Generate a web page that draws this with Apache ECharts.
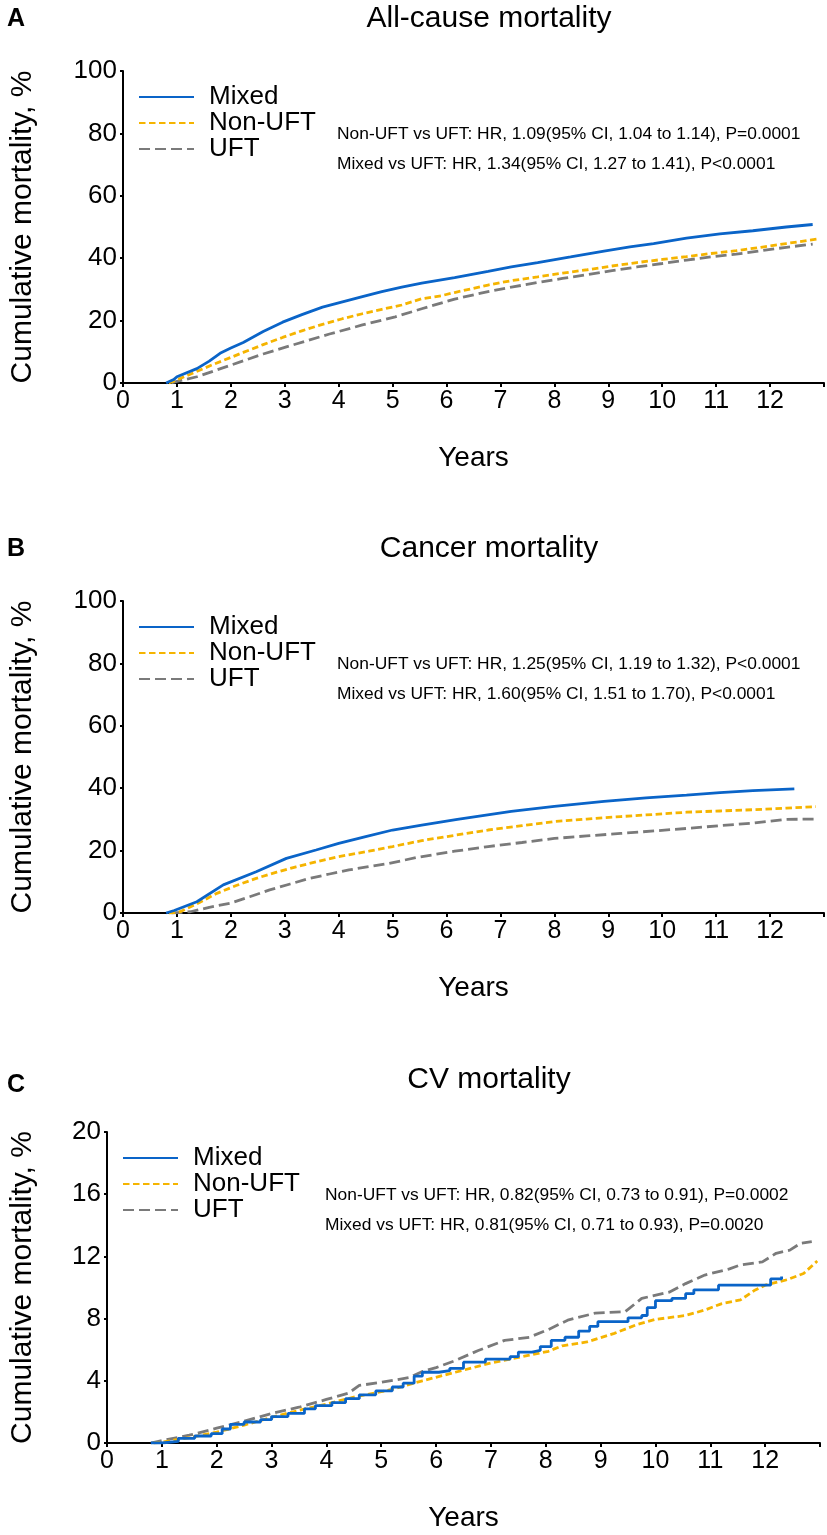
<!DOCTYPE html>
<html><head><meta charset="utf-8">
<script src="https://cdn.jsdelivr.net/npm/echarts@6/dist/echarts.min.js"></script>
<style>html,body{margin:0;padding:0;background:#fff}#c{width:827px;height:1535px}</style>
</head><body><div id="c"></div>
<script>
// ---------- data ----------
const seriesNames = ['Mixed', 'Non-UFT', 'UFT'];
const panelTitles = ['All-cause mortality', 'Cancer mortality', 'CV mortality'];
const panelLetters = ['A', 'B', 'C'];
const hrLines = [
  ['Non-UFT vs UFT: HR, 1.09(95% CI, 1.04 to 1.14), P=0.0001', 'Mixed vs UFT: HR, 1.34(95% CI, 1.27 to 1.41), P<0.0001'],
  ['Non-UFT vs UFT: HR, 1.25(95% CI, 1.19 to 1.32), P<0.0001', 'Mixed vs UFT: HR, 1.60(95% CI, 1.51 to 1.70), P<0.0001'],
  ['Non-UFT vs UFT: HR, 0.82(95% CI, 0.73 to 0.91), P=0.0002', 'Mixed vs UFT: HR, 0.81(95% CI, 0.71 to 0.93), P=0.0020']
];
const xTickLabels = [0,1,2,3,4,5,6,7,8,9,10,11,12];
const yTickLabelsAB = [0,20,40,60,80,100];
const yTickLabelsC = [0,4,8,12,16,20];

// All-cause mortality [years, %]
const allMixed = [[0.8,0],[0.94,1.1],[1.0,2.0],[1.37,4.6],[1.6,7.0],[1.8,9.5],[2.0,11.2],[2.23,13.0],[2.6,16.5],[2.96,19.5],[3.33,22.0],[3.7,24.3],[4.07,26.0],[4.44,27.7],[4.8,29.3],[5.17,30.7],[5.54,32.0],[6.15,33.8],[6.77,35.8],[7.2,37.2],[7.69,38.6],[8.3,40.4],[8.92,42.3],[9.4,43.6],[9.84,44.7],[10.45,46.4],[11.07,47.8],[11.68,48.8],[12.3,50.0],[12.79,50.8]];
const allNonUFT = [[0.85,0],[1.0,1.0],[1.3,3.2],[1.68,6.0],[2.0,8.2],[2.23,9.8],[2.6,12.3],[2.96,14.6],[3.33,16.8],[3.7,18.8],[4.07,20.6],[4.44,22.2],[4.8,23.6],[5.17,25.0],[5.54,27.0],[5.91,28.0],[6.15,29.0],[6.77,31.4],[7.2,32.8],[7.69,34.0],[8.15,35.2],[8.61,36.3],[9.07,37.5],[9.53,38.6],[10.0,39.6],[10.45,40.5],[10.9,41.5],[11.37,42.4],[11.83,43.5],[12.3,44.7],[12.9,46.2]];
const allUFT = [[0.9,0],[1.0,0.5],[1.37,2.0],[1.98,5.6],[2.6,9.3],[3.21,12.5],[3.83,15.7],[4.44,18.6],[5.05,21.2],[5.54,23.8],[6.15,26.9],[6.77,29.3],[7.23,30.8],[7.69,32.2],[8.15,33.5],[8.61,34.7],[9.07,36.0],[9.53,37.2],[10.0,38.3],[10.45,39.4],[10.9,40.4],[11.37,41.3],[11.83,42.4],[12.3,43.5],[12.79,44.5]];

// Cancer mortality
const canMixed = [[0.8,0],[0.95,0.8],[1.37,3.6],[1.86,9.0],[2.47,13.2],[3.03,17.5],[3.58,20.2],[4.0,22.3],[4.5,24.5],[5.0,26.6],[5.54,28.2],[6.2,30.0],[7.2,32.6],[8.0,34.2],[8.92,35.8],[9.7,36.9],[10.45,37.8],[11.07,38.6],[11.68,39.2],[12.45,39.8]];
const canNonUFT = [[0.85,0],[1.06,0.4],[1.4,3.2],[1.74,6.3],[2.1,8.8],[2.47,11.1],[2.85,13.1],[3.21,14.8],[3.58,16.4],[3.95,17.9],[4.56,19.8],[5.0,21.3],[5.54,23.2],[6.15,24.9],[6.77,26.6],[7.4,28.0],[8.0,29.3],[8.6,30.1],[9.23,30.9],[9.85,31.6],[10.45,32.3],[11.07,32.7],[11.68,33.1],[12.3,33.6],[12.85,34.1]];
const canUFT = [[0.9,0],[1.25,0.4],[1.6,1.8],[1.98,3.1],[2.35,5.2],[2.72,7.4],[3.1,9.3],[3.46,11.1],[3.83,12.5],[4.19,13.8],[4.56,14.9],[4.93,15.9],[5.48,17.9],[6.15,19.8],[6.77,21.3],[7.4,22.6],[8.0,23.9],[8.6,24.7],[9.23,25.5],[9.85,26.3],[10.45,27.1],[11.07,28.0],[11.68,28.8],[12.3,30.0],[12.82,30.1]];

// CV mortality
const cvMixed = [[0.8,0],[1.0,0.1],[1.3,0.3],[1.6,0.45],[1.9,0.6],[2.1,0.9],[2.25,1.2],[2.5,1.35],[2.8,1.5],[3.0,1.7],[3.3,1.9],[3.6,2.2],[3.8,2.4],[4.1,2.6],[4.35,2.85],[4.6,3.1],[4.9,3.35],[5.2,3.6],[5.4,3.85],[5.6,4.3],[5.75,4.55],[6.05,4.65],[6.25,4.8],[6.5,5.2],[6.9,5.4],[7.35,5.55],[7.5,5.85],[7.75,5.95],[7.9,6.2],[8.1,6.6],[8.35,6.8],[8.6,7.2],[8.8,7.5],[8.95,7.8],[9.5,8.05],[9.75,8.2],[9.85,8.7],[10.0,9.15],[10.3,9.3],[10.55,9.6],[10.7,9.85],[11.15,10.15],[12.1,10.55],[12.3,10.7]];
const cvNonUFT = [[0.85,0],[1.0,0.05],[1.5,0.35],[2.0,0.7],[2.5,1.15],[3.0,1.65],[3.5,2.1],[4.0,2.5],[4.5,2.95],[5.0,3.3],[5.25,3.5],[5.75,4.0],[6.35,4.55],[6.95,5.1],[7.7,5.65],[8.05,5.9],[8.3,6.25],[8.75,6.5],[9.25,7.05],[9.65,7.6],[10.0,7.95],[10.55,8.2],[10.9,8.55],[11.2,8.95],[11.55,9.2],[11.8,9.8],[12.0,10.15],[12.4,10.5],[12.7,10.9],[12.95,11.7]];
const cvUFT = [[0.8,0],[1.0,0.15],[1.5,0.5],[2.0,0.95],[2.5,1.4],[3.0,1.9],[3.5,2.3],[4.0,2.8],[4.4,3.2],[4.6,3.7],[5.0,3.9],[5.5,4.2],[5.75,4.6],[6.0,4.85],[6.35,5.3],[6.77,5.95],[7.25,6.6],[7.7,6.8],[8.05,7.3],[8.4,7.9],[8.9,8.35],[9.45,8.45],[9.75,9.3],[10.25,9.7],[10.55,10.25],[10.9,10.8],[11.35,11.2],[11.55,11.45],[11.95,11.65],[12.2,12.2],[12.45,12.4],[12.65,12.85],[12.85,12.95]];

// ---------- chart ----------
const FONT = 'Liberation Sans, Arial, Helvetica, sans-serif';
const colors = ['#0a64c8', '#f5b400', '#7a7a7a'];
const dashes = ['solid', [6.5, 3.5], [11, 5]];
const panelData = [[allMixed, allNonUFT, allUFT], [canMixed, canNonUFT, canUFT], [cvMixed, cvNonUFT, cvUFT]];
const yTicks = [yTickLabelsAB, yTickLabelsAB, yTickLabelsC];

const layout = [
  {left: 118, top: 71, width: 706, height: 312, nameGap: 85, legendLeft: 138, textLeft: 337},
  {left: 118, top: 601, width: 706, height: 312, nameGap: 85, legendLeft: 138, textLeft: 337},
  {left: 102, top: 1132, width: 718, height: 311, nameGap: 69, legendLeft: 122, textLeft: 325}
];

const grids = [], xAxes = [], yAxes = [], series = [], legends = [], graphics = [];
layout.forEach((L, p) => {
  grids.push({left: L.left, top: L.top, width: L.width, height: L.height, containLabel: false});
  const yt = yTicks[p];
  xAxes.push({
    type: 'value', gridIndex: p, min: 0, max: 13, interval: 1,
    name: 'Years', nameLocation: 'middle', nameGap: 61,
    nameTextStyle: {fontFamily: FONT, fontSize: 28, color: '#000'},
    axisLine: {lineStyle: {color: '#000', width: 2}},
    axisTick: {length: 4, lineStyle: {color: '#000', width: 2}},
    axisLabel: {fontFamily: FONT, fontSize: 25, color: '#000', margin: 6,
      formatter: v => xTickLabels.indexOf(v) >= 0 ? String(v) : ''},
    splitLine: {show: false}
  });
  yAxes.push({
    type: 'value', gridIndex: p, min: yt[0], max: yt[yt.length - 1], interval: yt[1] - yt[0],
    name: 'Cumulative mortality, %', nameLocation: 'middle', nameGap: L.nameGap,
    nameTextStyle: {fontFamily: FONT, fontSize: 30, color: '#000'},
    axisLine: {show: true, lineStyle: {color: '#000', width: 2}},
    axisTick: {show: true, length: 3, lineStyle: {color: '#000', width: 2}},
    axisLabel: {fontFamily: FONT, fontSize: 26, color: '#000', margin: 6},
    splitLine: {show: false}
  });
  panelData[p].forEach((d, s) => {
    series.push({
      name: seriesNames[s], type: 'line', xAxisIndex: p, yAxisIndex: p,
      data: d, symbol: 'none', showSymbol: false, smooth: false,
      step: (p === 2 && s === 0) ? 'end' : false,
      lineStyle: {color: colors[s], width: 2.8, type: dashes[s]},
      itemStyle: {color: colors[s]},
      z: 3 - s, animation: false
    });
  });
  legends.push({
    orient: 'vertical', left: L.legendLeft, top: L.top + 13, padding: 0,
    itemWidth: 55, itemHeight: 12, itemGap: 0,
    data: seriesNames,
    itemStyle: {color: 'rgba(0,0,0,0)', borderWidth: 0, opacity: 0},
    textStyle: {fontFamily: FONT, fontSize: 26, color: '#000', lineHeight: 24, padding: [0, 0, 0, 10]}
  });
  const titleY = L.top - 52;
  graphics.push({type: 'text', x: 16, y: titleY + (p === 2 ? 5 : 0),
    style: {text: panelLetters[p], font: 'bold 25px ' + FONT, fill: '#000', textAlign: 'center', textVerticalAlign: 'middle', align: 'center', verticalAlign: 'middle'}});
  graphics.push({type: 'text', x: 489, y: titleY,
    style: {text: panelTitles[p], font: '30px ' + FONT, fill: '#000', textAlign: 'center', textVerticalAlign: 'middle', align: 'center', verticalAlign: 'middle'}});
  hrLines[p].forEach((t, i) => {
    graphics.push({type: 'text', x: L.textLeft, y: L.top + 63 + i * 30,
      style: {text: t, font: '17.4px ' + FONT, fill: '#000', textAlign: 'left', textVerticalAlign: 'middle', align: 'left', verticalAlign: 'middle'}});
  });
});

const chart = echarts.init(document.getElementById('c'), null, {renderer: 'canvas'});
chart.setOption({
  backgroundColor: '#fff',
  animation: false,
  grid: grids, xAxis: xAxes, yAxis: yAxes, series: series, legend: legends,
  graphic: {elements: graphics}
});
</script></body></html>
